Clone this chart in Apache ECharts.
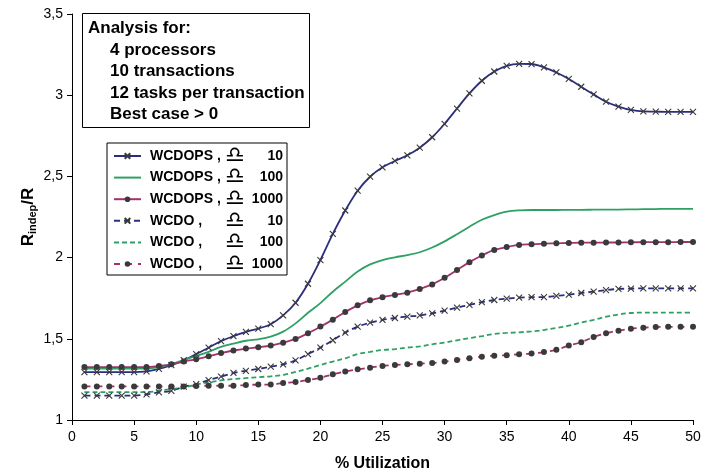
<!DOCTYPE html>
<html>
<head>
<meta charset="utf-8">
<script src="https://cdn.jsdelivr.net/npm/echarts@6/dist/echarts.min.js"></script>
<style>html,body{margin:0;padding:0;background:#fff;}#c{width:704px;height:470px;}</style>
</head>
<body>
<div id="c"></div>
<script>
const utilization = [1,2,3,4,5,6,7,8,9,10,11,12,13,14,15,16,17,18,19,20,21,22,23,24,25,26,27,28,29,30,31,32,33,34,35,36,37,38,39,40,41,42,43,44,45,46,47,48,49,50];
const wcdops10 = [1.295,1.295,1.295,1.295,1.295, 1.30,1.315,1.338,1.368,1.406, 1.445,1.486,1.516,1.543,1.563, 1.59,1.644,1.722,1.839,1.985, 2.146,2.29,2.412,2.498,2.556, 2.595,2.63,2.677,2.741,2.824, 2.918,3.011,3.089,3.146,3.181, 3.193,3.192,3.171,3.14,3.1, 3.052,3.005,2.96,2.93,2.909, 2.9,2.899,2.897,2.897,2.897];
const wcdops100 = [1.316,1.316,1.316,1.316,1.316, 1.316,1.325,1.345,1.37,1.394, 1.42,1.45,1.47,1.488,1.497, 1.513,1.544,1.595,1.66,1.72, 1.79,1.852,1.914,1.958,1.985, 2.002,2.015,2.033,2.062,2.1, 2.144,2.19,2.233,2.262,2.283, 2.291,2.293,2.293,2.293,2.294, 2.294,2.295,2.296,2.296,2.297, 2.298,2.299,2.3,2.3,2.3];
const wcdops1000 = [1.326,1.326,1.326,1.326,1.326, 1.326,1.333,1.343,1.36,1.374, 1.392,1.412,1.428,1.44,1.448, 1.458,1.476,1.499,1.534,1.575, 1.618,1.665,1.706,1.737,1.756, 1.77,1.784,1.807,1.835,1.876, 1.924,1.972,2.013,2.047,2.065, 2.078,2.082,2.086,2.088,2.09, 2.092,2.092,2.093,2.093,2.094, 2.095,2.095,2.095,2.096,2.096];
const wcdo10 = [1.15,1.15,1.15,1.15,1.15, 1.158,1.17,1.18,1.205,1.221, 1.246,1.267,1.29,1.303,1.314, 1.328,1.343,1.367,1.406,1.445, 1.491,1.538,1.575,1.599,1.616, 1.628,1.637,1.644,1.657,1.673, 1.692,1.709,1.726,1.739,1.747, 1.753,1.756,1.757,1.764,1.772, 1.782,1.79,1.8,1.807,1.809, 1.811,1.811,1.811,1.811,1.811];
const wcdo100 = [1.172,1.172,1.172,1.172,1.172, 1.172,1.18,1.19,1.2,1.218, 1.232,1.244,1.252,1.258,1.264, 1.269,1.277,1.296,1.316,1.339, 1.36,1.38,1.406,1.42,1.431, 1.437,1.446,1.453,1.466,1.477, 1.491,1.504,1.516,1.53,1.536, 1.54,1.546,1.554,1.567,1.581, 1.6,1.616,1.636,1.65,1.659, 1.661,1.661,1.661,1.661,1.661];
const wcdo1000 = [1.207,1.207,1.207,1.207,1.207, 1.207,1.207,1.207,1.207,1.21, 1.211,1.211,1.211,1.215,1.218, 1.218,1.228,1.234,1.246,1.26, 1.281,1.298,1.312,1.322,1.333, 1.339,1.343,1.347,1.351,1.36, 1.37,1.38,1.39,1.396,1.399, 1.405,1.409,1.418,1.433,1.458, 1.479,1.511,1.534,1.55,1.562, 1.568,1.572,1.574,1.574,1.574];

const seriesNames = ['WCDOPS 10','WCDOPS 100','WCDOPS 1000','WCDO 10','WCDO 100','WCDO 1000'];
const legendMethod = ['WCDOPS ,','WCDOPS ,','WCDOPS ,','WCDO ,','WCDO ,','WCDO ,'];
const legendDelta = ['10','100','1000','10','100','1000'];
const annotationLines = ['Analysis for:','4 processors','10 transactions','12 tasks per transaction','Best case > 0'];

const NAVY = '#2B2D7E', GREEN = '#2FA064', MAROON = '#A3326C', MARK = '#3a3a3a';
const crossPath = 'path://M0,0 L10,10 M10,0 L0,10';
const blankPath = 'path://M0,0 L10,0 L10,10 L0,10 Z';

function mk(name, arr, color, lineType, symbol, symbolSize) {
  const isCross = symbol === crossPath;
  const isBlank = symbol === blankPath;
  return {
    name: name, type: 'line', smooth: 0.35,
    data: utilization.map((x, i) => [x, arr[i]]),
    lineStyle: {color: color, width: 1.8, type: lineType},
    symbol: symbol, symbolSize: symbolSize, showSymbol: !isBlank,
    itemStyle: {
      color: (isCross || isBlank) ? 'rgba(0,0,0,0)' : MARK,
      borderColor: isBlank ? 'rgba(0,0,0,0)' : MARK,
      borderWidth: isCross ? 1.1 : 0
    },
    emphasis: {disabled: true}, animation: false
  };
}

const chart = echarts.init(document.getElementById('c'), null, {renderer: 'canvas'});
const FONT = 'Liberation Sans, Arial, sans-serif';
chart.setOption({
  backgroundColor: '#fff',
  animation: false,
  textStyle: {fontFamily: FONT},
  grid: {left: 72, right: 11, top: 14, bottom: 50, containLabel: false, outerBoundsMode: 'none'},
  xAxis: {
    type: 'value', min: 0, max: 50, interval: 5,
    name: '% Utilization', nameLocation: 'middle', nameGap: 36, nameMoveOverlap: false,
    nameTextStyle: {fontSize: 16, fontWeight: 'bold', color: '#000', fontFamily: FONT},
    axisLine: {show: true, lineStyle: {color: '#000', width: 1}},
    axisTick: {show: true, inside: false, length: 5, lineStyle: {color: '#000'}},
    axisLabel: {fontSize: 14, color: '#000', margin: 10, fontFamily: FONT},
    splitLine: {show: false}
  },
  yAxis: {
    type: 'value', min: 1, max: 3.5, interval: 0.5,
    name: '{r|R}{s|indep}{r|/R}', nameLocation: 'middle', nameGap: 34, nameRotate: 90, nameMoveOverlap: false,
    nameTextStyle: {
      color: '#000',
      rich: {
        r: {fontSize: 17, fontWeight: 'bold', color: '#000', fontFamily: FONT},
        s: {fontSize: 11, fontWeight: 'bold', color: '#000', fontFamily: FONT, padding: [9, 0, 0, 0]}
      }
    },
    axisLine: {show: true, lineStyle: {color: '#000', width: 1}},
    axisTick: {show: true, inside: false, length: 5, lineStyle: {color: '#000'}},
    axisLabel: {fontSize: 14, color: '#000', margin: 9, fontFamily: FONT,
      formatter: v => String(v).replace('.', ',')},
    splitLine: {show: false}
  },
  legend: {
    orient: 'vertical', left: 107, top: 143,
    data: seriesNames,
    backgroundColor: '#fff', borderColor: '#000', borderWidth: 1, borderRadius: 0,
    padding: [2, 4, 0, 6],
    itemWidth: 27, itemHeight: 7, itemGap: -0.4,
    selectedMode: false,
    formatter: function (name) {
      const i = seriesNames.indexOf(name);
      return '{a|' + legendMethod[i] + '}{b|\u264E}{c|' + legendDelta[i] + '}';
    },
    textStyle: {
      fontSize: 14, fontWeight: 'bold', color: '#000', fontFamily: FONT,
      rich: {
        a: {width: 75, fontSize: 14, fontWeight: 'bold', fontFamily: FONT, padding: [0, 0, 0, 4]},
        b: {width: 22, fontSize: 22, fontWeight: 'bold', fontFamily: 'DejaVu Sans'},
        c: {width: 36, fontSize: 14, fontWeight: 'bold', fontFamily: FONT, align: 'right'}
      }
    }
  },
  graphic: [
    {type: 'rect', left: 82, top: 13, shape: {width: 227, height: 114}, style: {fill: '#fff', stroke: '#000', lineWidth: 1}, z: 100}
  ].concat(annotationLines.map((t, i) => ({
    type: 'text', left: i === 0 ? 88 : 110, top: 20 + i * 21.5, z: 101,
    style: {text: t, fontSize: 17, fontWeight: 'bold', fill: '#000', fontFamily: FONT}
  }))),
  series: [
    mk(seriesNames[0], wcdops10, NAVY, 'solid', crossPath, 6),
    mk(seriesNames[1], wcdops100, GREEN, 'solid', blankPath, 4),
    mk(seriesNames[2], wcdops1000, MAROON, 'solid', 'circle', 6),
    mk(seriesNames[3], wcdo10, NAVY, [6, 4], crossPath, 6),
    mk(seriesNames[4], wcdo100, GREEN, [5, 3], blankPath, 4),
    mk(seriesNames[5], wcdo1000, MAROON, [6, 6], 'circle', 6)
  ]
});
</script>
</body>
</html>
